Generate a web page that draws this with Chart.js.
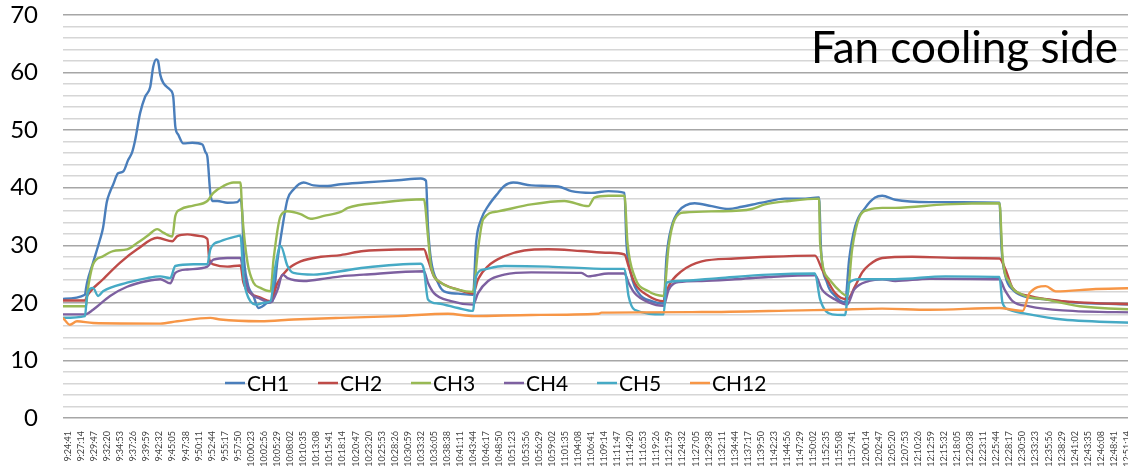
<!DOCTYPE html>
<html>
<head>
<meta charset="utf-8">
<script src="https://cdn.jsdelivr.net/npm/chart.js@4"></script>
<style>
  html, body { margin: 0; padding: 0; background: #fff; overflow: hidden; }
  #wrap { position: absolute; left: 0; top: 0; width: 1156px; height: 469px; }
</style>
</head>
<body>
<div id="wrap"><canvas id="chart"></canvas></div>
<script>
// x positions are in units of tick label slots (0 = 9:24:41, one slot = 2 min 33 s)
const tickLabels = [
  '9:24:41', '9:27:14', '9:29:47', '9:32:20', '9:34:53', '9:37:26', '9:39:59', '9:42:32', '9:45:05', '9:47:38',
  '9:50:11', '9:52:44', '9:55:17', '9:57:50', '10:00:23', '10:02:56', '10:05:29', '10:08:02', '10:10:35', '10:13:08',
  '10:15:41', '10:18:14', '10:20:47', '10:23:20', '10:25:53', '10:28:26', '10:30:59', '10:33:32', '10:36:05', '10:38:38',
  '10:41:11', '10:43:44', '10:46:17', '10:48:50', '10:51:23', '10:53:56', '10:56:29', '10:59:02', '11:01:35', '11:04:08',
  '11:06:41', '11:09:14', '11:11:47', '11:14:20', '11:16:53', '11:19:26', '11:21:59', '11:24:32', '11:27:05', '11:29:38',
  '11:32:11', '11:34:44', '11:37:17', '11:39:50', '11:42:23', '11:44:56', '11:47:29', '11:50:02', '11:52:35', '11:55:08',
  '11:57:41', '12:00:14', '12:02:47', '12:05:20', '12:07:53', '12:10:26', '12:12:59', '12:15:32', '12:18:05', '12:20:38',
  '12:23:11', '12:25:44', '12:28:17', '12:30:50', '12:33:23', '12:35:56', '12:38:29', '12:41:02', '12:43:35', '12:46:08',
  '12:48:41', '12:51:14', '12:53:47'
];

const ch1 = [
  [-0.38, 20.7], [1.30, 21.4], [1.38, 22.5], [1.46, 23.5], [1.92, 27], [2.45, 31], [2.68, 33], [2.97, 37.5],
  [3.22, 39.3], [3.45, 40.5], [3.83, 42.5], [4.22, 42.8], [4.60, 44.8], [4.91, 46.2], [5.14, 48.3], [5.52, 53],
  [5.90, 55.8], [6.29, 57.5], [6.52, 61], [6.75, 62.3], [6.90, 61.9], [7.06, 59.6], [7.29, 58.2], [7.82, 57],
  [8.05, 55.8], [8.21, 50.6], [8.44, 49.2], [8.82, 47.7], [9.51, 47.8], [10.28, 47.5], [10.51, 46.2], [10.66, 45.4],
  [10.89, 39], [11.04, 37.7], [11.43, 37.7], [12.19, 37.4], [12.96, 37.5], [13.19, 38], [13.34, 35], [13.42, 29.3],
  [13.73, 23.5], [14.19, 21.2], [14.57, 19.1], [14.88, 19.4], [15.26, 20], [15.64, 20.3], [16.03, 27.5], [16.41, 33.3],
  [16.79, 38], [17.25, 39.7], [18.02, 40.9], [18.79, 40.4], [19.86, 40.3], [20.86, 40.6], [22.62, 40.9], [25.23, 41.3],
  [26.99, 41.6], [27.38, 41.2], [27.53, 33.3], [27.76, 27.5], [28.30, 23.5], [28.76, 22], [29.83, 21.6], [30.98, 21.4],
  [31.21, 30.4], [31.60, 34.5], [32.13, 36.8], [32.90, 39.1], [33.36, 40.3], [34.05, 40.9], [35.43, 40.4], [37.50, 40.2],
  [38.50, 39.4], [40.03, 39.1], [41.33, 39.4], [42.56, 39.1], [42.71, 30.4], [43.10, 24.6], [43.64, 21.7], [44.63, 20.3],
  [45.55, 19.9], [45.78, 28.1], [46.17, 33.3], [46.70, 35.9], [47.93, 37.3], [49.23, 36.8], [50.54, 36.3], [51.53, 36.7],
  [53.07, 37.4], [54.83, 38.1], [56.13, 38.1], [57.44, 38.3], [57.59, 29.3], [58.05, 23.5], [58.67, 21.2], [59.43, 20.1],
  [59.74, 27.5], [60.20, 33.3], [60.97, 36.5], [61.73, 38.3], [62.27, 38.6], [63.27, 37.9], [65.87, 37.5], [68.40, 37.5],
  [71.24, 37.4], [71.40, 29.3], [71.70, 24.6], [72.24, 22.3], [73.01, 21.2], [74.77, 20.6], [77.38, 20], [82.2, 19.7]
];

const ch2 = [
  [-0.38, 20.4], [1.30, 20.4], [1.46, 21.2], [2.68, 24.1], [3.99, 27], [5.29, 29.3], [6.83, 31.3], [7.98, 30.7],
  [8.36, 31.6], [9.13, 31.9], [10.12, 31.6], [10.66, 31.1], [10.81, 27.5], [11.12, 26.7], [12.19, 26.3], [13.19, 26.5],
  [13.42, 23.5], [13.96, 21.7], [14.72, 20.9], [15.49, 20.3], [16.03, 23.5], [16.79, 25.8], [17.79, 27.2], [19.33, 28],
  [20.86, 28.3], [22.62, 29], [27.22, 29.3], [27.53, 27.5], [27.99, 24.6], [28.76, 23.2], [29.83, 22.3], [30.98, 21.6],
  [31.36, 24.1], [32.13, 26.4], [33.36, 28.1], [34.89, 29.1], [36.73, 29.3], [39.26, 29], [41.33, 28.7], [42.56, 28.4],
  [42.87, 26.4], [43.33, 23.5], [44.40, 21.2], [45.55, 20.3], [45.94, 22.9], [46.93, 25.5], [48.47, 27.2], [51.00, 27.7],
  [53.60, 28], [57.13, 28.2], [57.67, 25.8], [58.67, 21.7], [59.59, 20.6], [60.20, 22.9], [60.74, 25.3], [61.27, 26.6],
  [62.27, 27.8], [64.57, 28], [68.40, 27.8], [71.24, 27.7], [71.70, 25.8], [72.24, 22.6], [73.54, 21.2], [76.07, 20.3],
  [82.2, 19.7]
];

const ch3 = [
  [-0.38, 19.4], [1.38, 19.4], [1.50, 22], [1.69, 24.6], [1.92, 26.7], [2.68, 28.1], [3.45, 29], [4.52, 29.3],
  [5.29, 30.4], [6.06, 31.6], [6.83, 32.8], [7.29, 32.2], [7.98, 31.5], [8.21, 35.1], [8.59, 36.2], [9.59, 36.9],
  [10.66, 37.7], [11.12, 39.1], [11.89, 40.3], [12.65, 40.9], [13.19, 40.9], [13.34, 35.1], [13.73, 27], [14.19, 23.5],
  [14.72, 22.6], [15.49, 22], [15.72, 27.5], [16.26, 35.1], [16.79, 35.9], [17.79, 35.4], [18.56, 34.6], [19.56, 35.1],
  [20.86, 35.8], [21.40, 36.5], [23.93, 37.4], [27.22, 38], [27.53, 31.6], [27.76, 26.4], [28.53, 23.5], [29.83, 22.3],
  [30.98, 21.9], [31.36, 29.3], [31.75, 34.5], [32.90, 35.9], [35.43, 37.1], [37.96, 37.7], [39.80, 36.8], [40.26, 38.3],
  [41.33, 38.6], [42.56, 38.6], [42.79, 30.4], [43.33, 24.6], [44.40, 22], [45.55, 21.2], [45.94, 29.9], [46.40, 34.5],
  [47.16, 35.7], [49.77, 35.9], [52.30, 36.3], [53.30, 37.1], [55.14, 37.7], [57.44, 38.1], [57.52, 30.4], [58.21, 24.1],
  [59.20, 21.7], [59.59, 21.2], [59.97, 29.3], [60.51, 34.8], [61.27, 36.2], [62.27, 36.5], [63.27, 36.5], [67.10, 37.1],
  [71.24, 37.3], [71.47, 28.1], [72.01, 23.5], [73.01, 21.4], [74.77, 20.6], [77.38, 19.4], [82.2, 18.8]
];

const ch4 = [
  [-0.38, 18], [1.30, 18], [1.92, 18.8], [3.22, 21.2], [4.52, 22.8], [6.06, 23.8], [7.06, 24.1], [7.82, 23.4],
  [8.21, 25.2], [9.13, 25.8], [10.66, 26.3], [11.12, 27.5], [12.19, 27.8], [13.19, 27.8], [13.42, 25.2], [13.80, 22.3],
  [14.72, 20.7], [15.49, 20.1], [16.03, 22.3], [16.41, 24.9], [16.79, 24.3], [18.02, 23.8], [19.86, 24.3], [20.86, 24.6],
  [22.62, 24.9], [27.22, 25.5], [27.53, 23.5], [27.99, 21.7], [29.29, 20.3], [30.98, 19.7], [31.36, 21.7], [32.13, 23.8],
  [33.36, 24.9], [35.43, 25.3], [39.26, 25.2], [39.80, 24.6], [41.33, 25.1], [42.56, 25.1], [42.87, 23.5], [43.33, 21.7],
  [44.40, 20.1], [45.55, 19.5], [45.94, 22.3], [46.70, 23.6], [48.47, 23.8], [51.00, 24.1], [53.60, 24.5], [57.13, 24.8],
  [57.67, 22.3], [58.67, 20.6], [59.59, 19.7], [60.12, 22.3], [61.27, 23.8], [62.27, 24.1], [63.27, 23.8], [65.87, 24.2],
  [71.24, 24.1], [71.63, 22.3], [72.24, 20.3], [73.54, 19.4], [76.07, 18.7], [82.2, 18.3]
];

const ch5 = [
  [-0.38, 17.4], [1.30, 17.7], [1.46, 21.2], [1.92, 22.6], [2.30, 21.2], [2.68, 22], [4.52, 23.5], [6.06, 24.3],
  [7.06, 24.6], [7.82, 24.3], [8.21, 26.4], [9.59, 26.7], [10.66, 26.7], [10.89, 29.3], [11.66, 30.7], [12.96, 31.6],
  [13.19, 31.7], [13.42, 24.6], [13.80, 20.9], [14.49, 19.7], [14.95, 20], [15.49, 20.3], [15.87, 26.4], [16.26, 29.9],
  [16.79, 26.4], [17.25, 25.2], [18.79, 24.9], [20.86, 25.5], [22.62, 26.1], [26.99, 26.8], [27.22, 25.8], [27.53, 20.6],
  [28.30, 19.9], [29.83, 19.1], [30.98, 18.6], [31.21, 24.6], [31.83, 25.8], [33.36, 26.4], [36.73, 26.3], [41.33, 25.9],
  [42.56, 25.9], [42.87, 21.2], [43.33, 18.8], [45.55, 18], [45.78, 23.5], [46.70, 23.8], [49.77, 24.3], [53.60, 24.9],
  [57.13, 25.1], [57.52, 20.6], [58.44, 18], [59.43, 17.9], [59.74, 23.5], [60.51, 24.1], [63.27, 24.1], [67.10, 24.6],
  [71.24, 24.5], [71.47, 20], [72.01, 18.8], [73.54, 18], [76.07, 17.1], [82.2, 16.5]
];

const ch12 = [
  [-0.38, 17.4], [0.15, 16.2], [0.69, 16.8], [1.92, 16.5], [7.06, 16.4], [8.36, 16.8], [10.89, 17.4], [11.66, 17.1],
  [14.72, 16.8], [17.25, 17.1], [20.86, 17.4], [25.23, 17.7], [29.06, 18.1], [31.06, 17.7], [35.43, 17.9], [40.57, 18.1],
  [40.80, 18.3], [48.47, 18.4], [56.13, 18.7], [58.67, 18.8], [62.27, 19], [65.87, 18.8], [71.24, 19.1], [72.24, 18.8],
  [73.01, 18.6], [73.54, 21.7], [74.77, 22.9], [75.54, 22], [78.60, 22.4], [82.2, 22.6]
];

const seriesNames = ['CH1', 'CH2', 'CH3', 'CH4', 'CH5', 'CH12'];
const seriesColors = ['#4a7ebb', '#be4b48', '#98b954', '#7d60a0', '#46aac5', '#f79646'];
const seriesData = [ch1, ch2, ch3, ch4, ch5, ch12];

const FONT = "Lato, 'Open Sans', sans-serif";

// title and legend sit inside the plot area, like the spreadsheet original
const insideText = {
  id: 'insideText',
  afterDraw(chart) {
    const ctx = chart.ctx;
    ctx.save();
    ctx.fillStyle = '#000';
    ctx.font = `44px ${FONT}`;
    ctx.textAlign = 'right';
    ctx.textBaseline = 'alphabetic';
    ctx.fillText('Fan cooling side', 1118, 63);

    ctx.font = `21px ${FONT}`;
    ctx.textAlign = 'left';
    ctx.textBaseline = 'middle';
    chart.data.datasets.forEach((ds, i) => {
      const x = 225 + i * 93;
      const y = 383;
      ctx.strokeStyle = ds.borderColor;
      ctx.lineWidth = 2.5;
      ctx.beginPath();
      ctx.moveTo(x, y);
      ctx.lineTo(x + 20, y);
      ctx.stroke();
      ctx.fillStyle = '#000';
      ctx.fillText(ds.label, x + 22, y + 1);
    });
    ctx.restore();
  }
};

new Chart(document.getElementById('chart'), {
  type: 'line',
  data: {
    datasets: seriesData.map((pts, i) => ({
      label: seriesNames[i],
      data: pts.map(([x, y]) => ({ x, y })),
      borderColor: seriesColors[i],
      backgroundColor: seriesColors[i],
      borderWidth: 2.4,
      pointRadius: 0,
      cubicInterpolationMode: 'monotone',
      order: seriesData.length - i
    }))
  },
  options: {
    responsive: true,
    maintainAspectRatio: false,
    animation: false,
    layout: { padding: { top: 15, right: 0, left: 0, bottom: 0 } },
    plugins: { legend: { display: false }, tooltip: { enabled: false } },
    scales: {
      x: {
        type: 'linear',
        min: -0.38,
        max: 82.2,
        afterBuildTicks: axis => { axis.ticks = tickLabels.map((_, i) => ({ value: i })); },
        afterFit: axis => { axis.height = 51; },
        grid: { display: false },
        border: { display: false },
        ticks: {
          autoSkip: false,
          maxRotation: 90,
          minRotation: 90,
          padding: 5,
          color: '#404040',
          font: { family: FONT, size: 9 },
          callback: v => tickLabels[Math.round(v)]
        }
      },
      y: {
        min: 0,
        max: 70,
        afterFit: axis => {
          axis.width = 63;
          // the wide label gap should not push the plot down
          axis.paddingTop = 0;
          axis.paddingBottom = 0;
        },
        border: { display: false },
        grid: {
          drawTicks: false,
          lineWidth: 1.5,
          color: c => (c.tick.value % 10 === 0 ? '#a6a6a6' : '#d6d6d6')
        },
        ticks: {
          stepSize: 2,
          autoSkip: false,
          padding: 25,
          color: '#000',
          font: { family: FONT, size: 24 },
          callback: v => (v % 10 === 0 ? v : '')
        }
      }
    }
  },
  plugins: [insideText]
});
</script>
</body>
</html>
